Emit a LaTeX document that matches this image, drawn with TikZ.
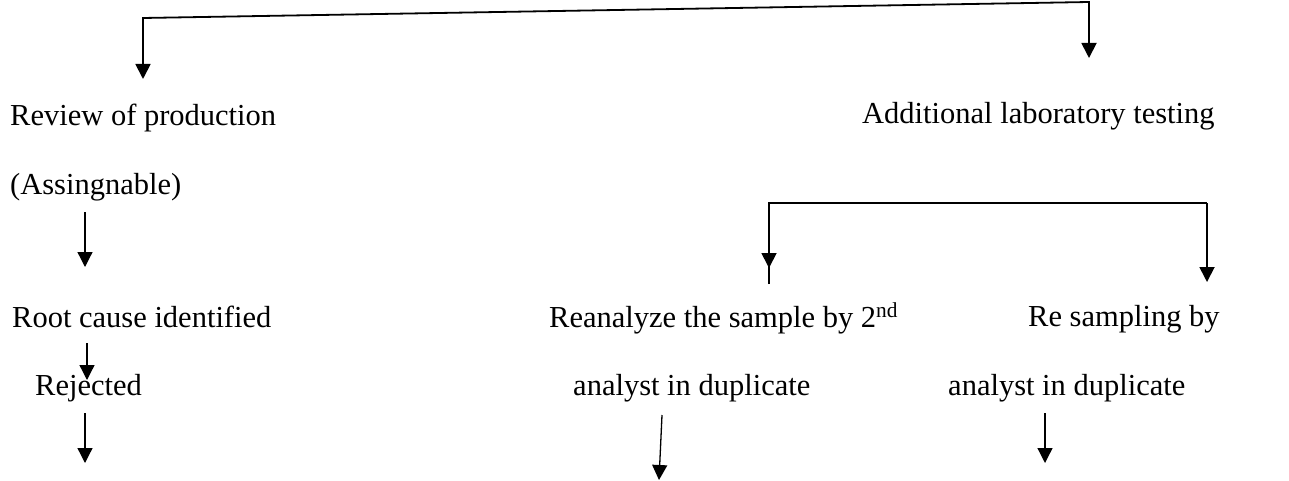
\documentclass[tikz,border=0pt]{standalone}
\usepackage{fontspec}
\setmainfont{Liberation Serif}
\usetikzlibrary{arrows.meta}
\begin{document}
\begin{tikzpicture}[x=1pt,y=-1pt,
  txt/.style={anchor=base west,inner sep=0pt,font=\fontsize{30.5}{36}\selectfont},
  link/.style={line width=1.8pt,line join=miter},
  arr/.style={line width=1.5pt,-{Triangle[width=15pt,length=15pt]}},
  arrthin/.style={line width=1.3pt,-{Triangle[width=15pt,length=15pt]}}]
\useasboundingbox (0,0) rectangle (1289,481);
% text nodes
\node[txt] (rev) at (10,125.7) {Review of production};
\node[txt] (add) at (862,124) {Additional laboratory testing};
\node[txt] (ass) at (10,194) {(Assingnable)};
\node[txt] (root) at (12,327) {Root cause identified};
\node[txt] (rej) at (35,395) {Rejected};
\node[txt] (rean) at (549,327) {Reanalyze the sample by 2\textsuperscript{nd}};
\node[txt] (ana1) at (573,395) {analyst in duplicate};
\node[txt] (res) at (1028,326) {Re sampling by};
\node[txt] (ana2) at (948,395) {analyst in duplicate};
% coordinates
\coordinate (tl) at (143,18);
\coordinate (tr) at (1089,2);
\coordinate (a1) at (143,79);
\coordinate (a2) at (1089,58);
\coordinate (bl) at (769,203);
\coordinate (br) at (1207,203);
\coordinate (b1) at (769,268);
\coordinate (b1x) at (769,284);
\coordinate (b2) at (1207,282);
\coordinate (c1s) at (85,212);
\coordinate (c1e) at (85,267);
\coordinate (c2s) at (87,343);
\coordinate (c2e) at (87,380);
\coordinate (c3s) at (85,413);
\coordinate (c3e) at (85,463);
\coordinate (d1s) at (662,415);
\coordinate (d1e) at (659,480);
\coordinate (d2s) at (1045,413);
\coordinate (d2e) at (1045,463);
% connectors
\draw[link,{Triangle[width=15pt,length=15pt]}-{Triangle[width=15pt,length=15pt]}] (a1) -- (tl) -- (tr) -- (a2);
\draw[link] (b1x) -- (bl) -- (br);
\draw[link,-{Triangle[width=15pt,length=15pt]}] (br) -- (b2);
\draw[link,-{Triangle[width=15pt,length=15pt]}] (bl) -- (b1);
\draw[arrthin] (c1s) -- (c1e);
\draw[arrthin] (c2s) -- (c2e);
\draw[arrthin] (c3s) -- (c3e);
\draw[arrthin] (d1s) -- (d1e);
\draw[arrthin] (d2s) -- (d2e);
\end{tikzpicture}
\end{document}
